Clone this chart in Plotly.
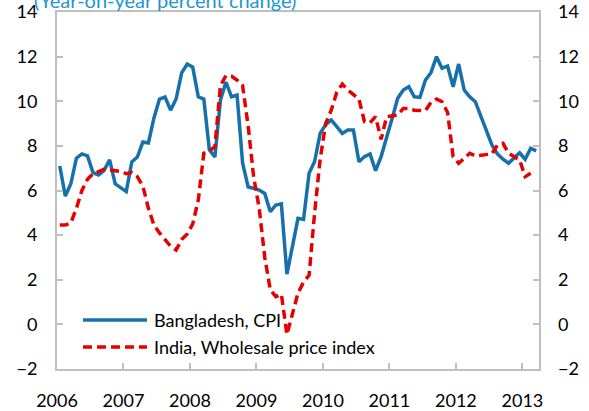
import plotly.graph_objects as go

start_year = 2006
bangladesh_cpi = [7.1, 5.75, 6.3, 7.45, 7.64, 7.55, 6.8, 6.7, 6.9, 7.37, 6.3, 6.1,
                  5.95, 7.28, 7.5, 8.17, 8.13, 9.25, 10.1, 10.19, 9.6, 10.1, 11.27, 11.67,
                  11.53, 10.2, 10.1, 7.82, 7.5, 10.06, 10.86, 10.2, 10.28, 7.23, 6.16, 6.1,
                  6.02, 5.87, 5.05, 5.35, 5.4, 2.25, 3.5, 4.75, 4.7, 6.77, 7.3, 8.56,
                  8.95, 9.16, 8.86, 8.56, 8.71, 8.71, 7.29, 7.52, 7.64, 6.89, 7.52, 8.34,
                  9.24, 10.13, 10.5, 10.65, 10.2, 10.17, 10.95, 11.28, 12.0, 11.48, 11.58, 10.65,
                  11.67, 10.5, 10.2, 9.98, 9.31, 8.64, 8.04, 7.64, 7.4, 7.22, 7.45, 7.69,
                  7.4, 7.89, 7.78]
india_wpi = [4.45, 4.45, 4.55, 5.2, 6.0, 6.5, 6.75, 6.85, 6.95, 6.92, 6.9, 6.85,
             6.75, 6.8, 6.62, 6.2, 5.2, 4.45, 4.1, 3.8, 3.5, 3.33, 3.8, 4.05,
             4.5, 5.57, 7.67, 7.78, 7.96, 10.7, 11.15, 11.12, 10.95, 10.7, 8.9, 6.6,
             5.2, 3.0, 1.55, 1.24, 1.35, -0.45, 0.5, 1.4, 1.9, 2.2, 5.0, 7.4,
             9.0, 9.6, 10.4, 10.77, 10.5, 10.3, 10.1, 9.08, 9.04, 9.31, 8.29, 9.31,
             9.34, 9.38, 9.68, 9.68, 9.6, 9.6, 9.58, 9.95, 10.1, 9.98, 9.5, 7.52,
             7.22, 7.44, 7.67, 7.55, 7.59, 7.62, 7.64, 8.04, 8.11, 7.67, 7.52, 7.37,
             6.62, 6.77]
year_ticks = [2006, 2007, 2008, 2009, 2010, 2011, 2012, 2013]
y_ticks = [-2, 0, 2, 4, 6, 8, 10, 12, 14]
series_names = ["Bangladesh, CPI", "India, Wholesale price index"]
title_text = "(Year-on-year percent change)"

x_bd = [start_year + (i + 0.5) / 12 for i in range(len(bangladesh_cpi))]
x_in = [start_year + (i + 0.5) / 12 for i in range(len(india_wpi))]

BLUE = "#1670AC"
RED = "#E60000"
GRAY = "#BFBFBF"
FONT = "Lato"

fig = go.Figure()
fig.add_trace(go.Scatter(x=x_bd, y=bangladesh_cpi, mode="lines", name=series_names[0],
                         line=dict(color=BLUE, width=3.5), showlegend=False))
fig.add_trace(go.Scatter(x=x_in, y=india_wpi, mode="lines", name=series_names[1],
                         line=dict(color=RED, width=3.5, dash="9px,5px"), showlegend=False))
# invisible trace to activate right axis
fig.add_trace(go.Scatter(x=[year_ticks[0]], y=[y_ticks[0]], yaxis="y2", mode="lines",
                         line=dict(width=0), hoverinfo="skip", showlegend=False))

W, H = 589, 411
ml, mr, mt, mb = 57, 50, 12, 42
pw, ph = W - ml - mr, H - mt - mb

def px2paper(px, py):
    return (px - ml) / pw, (H - mb - py) / ph

fig.update_layout(
    width=W, height=H,
    margin=dict(l=ml, r=mr, t=mt, b=mb, pad=0, autoexpand=False),
    paper_bgcolor="white", plot_bgcolor="white",
    font=dict(family=FONT, size=18, color="black"),
    xaxis=dict(range=[2006, 2013.25], tickvals=year_ticks, ticktext=[str(y) for y in year_ticks],
               ticks="inside", ticklen=6, tickwidth=1.5, tickcolor=GRAY,
               showline=True, linecolor=GRAY, linewidth=2, mirror=True, automargin=False,
               showgrid=False, zeroline=False, ticklabelstandoff=14,
               tickfont=dict(family=FONT, size=18)),
    yaxis=dict(range=[-2, 14], tickvals=y_ticks, ticks="inside", ticklen=6, tickwidth=1.5,
               tickcolor=GRAY, showline=True, linecolor=GRAY, linewidth=2, mirror="ticks",
               showgrid=False, zeroline=False, ticklabelstandoff=14, automargin=False,
               tickfont=dict(family=FONT, size=18)),
    yaxis2=dict(range=[-2, 14], tickvals=y_ticks, overlaying="y", side="right",
                ticks="", showline=False, showgrid=False, zeroline=False, automargin=False,
                ticklabelstandoff=18, tickfont=dict(family=FONT, size=18)),
)

# title (partially cut at the top, as in the reference)
tx, ty = px2paper(32, 14)
fig.add_annotation(text=title_text, xref="paper", yref="paper", x=tx, y=ty,
                   xanchor="left", yanchor="bottom", showarrow=False,
                   font=dict(family=FONT, size=20, color="#1E96D2"))

# legend drawn manually
for i, (name, color, dash, py) in enumerate([(series_names[0], BLUE, "solid", 320),
                                              (series_names[1], RED, "9px,5px", 347)]):
    x0, y0 = px2paper(83, py)
    x1, _ = px2paper(147, py)
    fig.add_shape(type="line", xref="paper", yref="paper", x0=x0, x1=x1, y0=y0, y1=y0,
                  line=dict(color=color, width=3.5, dash=dash))
    lx, _ = px2paper(152, py)
    fig.add_annotation(text=name, xref="paper", yref="paper", x=lx, y=y0,
                       xanchor="left", yanchor="middle", showarrow=False,
                       font=dict(family=FONT, size=18, color="black"))

fig.write_html("out.html", config={"displayModeBar": False},
               post_script="document.body.style.margin='0px';document.body.style.overflow='hidden';")
